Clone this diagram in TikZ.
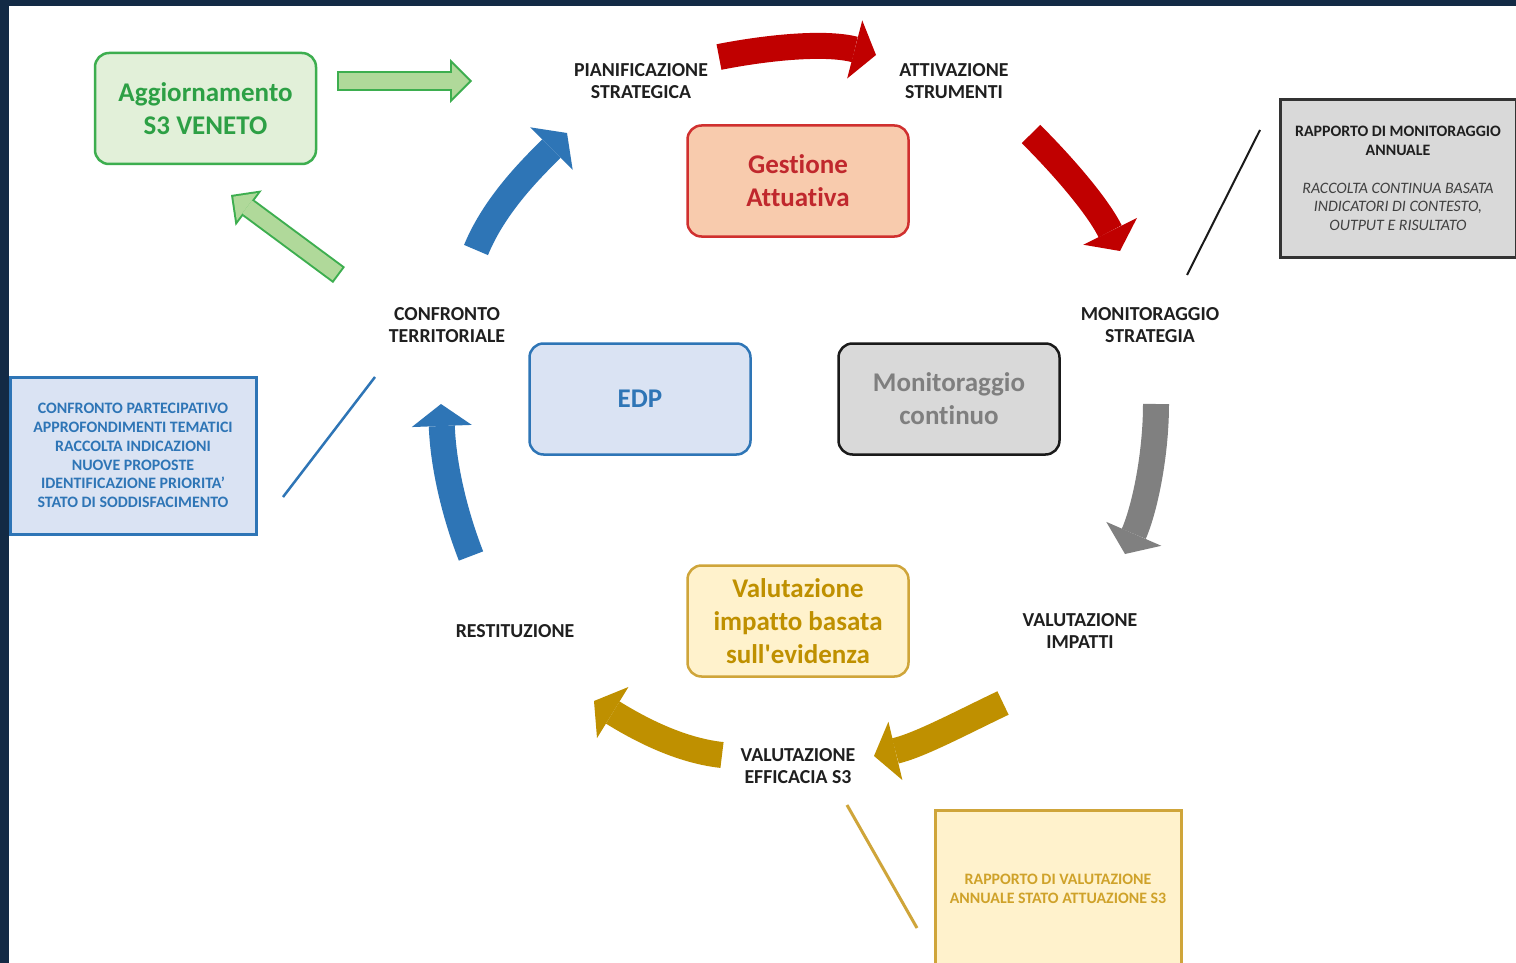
\documentclass[tikz,border=0pt]{standalone}
\usepackage{fontspec}
\setmainfont{Carlito}[Ligatures=NoCommon]
\usetikzlibrary{arrows.meta}
\usetikzlibrary{positioning}
\definecolor{navy}{HTML}{132A45}
\definecolor{phasetext}{HTML}{1F1F1F}
\definecolor{aggfill}{HTML}{E2F0D9}
\definecolor{aggline}{HTML}{3DAE4F}
\definecolor{aggtext}{HTML}{2DA045}
\definecolor{aggarrow}{HTML}{B0D99A}
\definecolor{gestfill}{HTML}{F8CBAD}
\definecolor{gestline}{HTML}{D0302F}
\definecolor{gesttext}{HTML}{C0282D}
\definecolor{redarrow}{HTML}{C00000}
\definecolor{edpfill}{HTML}{DAE3F3}
\definecolor{edpblue}{HTML}{2E75B6}
\definecolor{monfill}{HTML}{D9D9D9}
\definecolor{monline}{HTML}{1A1A1A}
\definecolor{montext}{HTML}{7F7F7F}
\definecolor{grayarrow}{HTML}{808080}
\definecolor{valfill}{HTML}{FFF2CC}
\definecolor{valline}{HTML}{CFA53A}
\definecolor{valtext}{HTML}{BF9000}
\definecolor{goldarrow}{HTML}{BF9000}
\definecolor{repgold}{HTML}{CFA22A}
\newcommand{\noteline}[1]{{\mdseries\itshape\color{black!75}#1}}
\tikzset{
  phaselabel/.style={align=center, text=phasetext, font=\fontsize{19.8}{21.5}\selectfont\bfseries},
  stagebox/.style={rectangle, rounded corners=14pt, line width=2.5pt, align=center,
    minimum width=221pt, minimum height=111pt, font=\fontsize{27}{33}\selectfont\bfseries},
  reportbox/.style={rectangle, line width=3pt, align=center, minimum width=246pt,
    minimum height=157pt, font=\fontsize{15.9}{18.7}\selectfont\bfseries},
  bigarrow/.style={line width=26pt, -{Triangle[length=22pt,width=60pt,line width=0pt]}},
  greenout/.style={draw=aggline, line width=20pt, -{Triangle[length=22pt,width=44pt,line width=0pt]}},
  greenin/.style={draw=aggarrow, line width=16pt, shorten <=2pt, shorten >=2.8pt,
    -{Triangle[length=17.2pt,width=34.4pt,line width=0pt]}},
  leader/.style={line width=2.5pt}
  }

\begin{document}
\begin{tikzpicture}[x=1pt, y=-1pt]
	% Frame
	\useasboundingbox (0,0) rectangle (1516,963);
	\fill[navy] (0,0) rectangle (1516,963);
	\fill[white] (9,6) rectangle (1516,963);

	% Phases of the cycle
	\node[phaselabel] (pianif) at (641,81) {PIANIFICAZIONE\\STRATEGICA};
	\node[phaselabel] (attiv) at (954,81) {ATTIVAZIONE\\STRUMENTI};
	\node[phaselabel] (monstr) at (1150,325) {MONITORAGGIO\\STRATEGIA};
	\node[phaselabel] (valimp) at (1080,631) {VALUTAZIONE\\IMPATTI};
	\node[phaselabel] (valeff) at (798,766) {VALUTAZIONE\\EFFICACIA S3};
	\node[phaselabel] (restit) at (515,631) {RESTITUZIONE};
	\node[phaselabel] (confr) at (447,325) {CONFRONTO\\TERRITORIALE};

	% Boxes
	\node[stagebox, fill=aggfill, draw=aggline, text=aggtext] (aggiorn) at (205.5,108.5) {Aggiornamento\\S3 VENETO};
	\node[stagebox, fill=gestfill, draw=gestline, text=gesttext] (gestione) at (798,181) {Gestione\\Attuativa};
	\node[stagebox, fill=edpfill, draw=edpblue, text=edpblue] (edp) at (640,399) {EDP};
	\node[stagebox, fill=monfill, draw=monline, text=montext, right=85.5pt of edp] (moncont) {Monitoraggio\\continuo};
	\node[stagebox, fill=valfill, draw=valline, text=valtext] (valbox) at (798,621) {Valutazione\\impatto basata\\sull\textquotesingle evidenza};

	% Reports
	\node[reportbox, fill=monfill, draw=black!80, minimum width=236pt, text=phasetext] (rapmon) at (1398,178.5)
		{RAPPORTO DI MONITORAGGIO\\ANNUALE\\[18.7pt]\noteline{RACCOLTA CONTINUA BASATA}\\\noteline{INDICATORI DI CONTESTO,}\\\noteline{OUTPUT E RISULTATO}};
	\node[reportbox, fill=edpfill, draw=edpblue, text=edpblue] (confpart) at (133,455.5)
		{CONFRONTO PARTECIPATIVO\\APPROFONDIMENTI TEMATICI\\RACCOLTA INDICAZIONI\\NUOVE PROPOSTE\\IDENTIFICAZIONE PRIORITA’\\STATO DI SODDISFACIMENTO};
	\node[reportbox, fill=valfill, draw=valline, text=repgold] (rapval) at (1058,888.5)
		{RAPPORTO DI VALUTAZIONE\\ANNUALE STATO ATTUAZIONE S3};

	% Arrow ends
	\coordinate (aggstart) at (337,81);
	\coordinate (aggend) at (472,81);
	\coordinate (confstart) at (339,275);
	\coordinate (confend) at (231,195);
	\coordinate (confrout) at (476,250);
	\coordinate (pianifin) at (567,133);
	\coordinate (pianifout) at (719,57);
	\coordinate (attivin) at (876,55);
	\coordinate (attivout) at (1031,134);
	\coordinate (monstrin) at (1120,251);
	\coordinate (monstrout) at (1156,404);
	\coordinate (valimpin) at (1125,554);
	\coordinate (valimpout) at (1003,703);
	\coordinate (valeffin) at (874,756);
	\coordinate (valeffout) at (722,755);
	\coordinate (restitin) at (594,701);
	\coordinate (restitout) at (471,556);
	\coordinate (confrin) at (441,404);

	% Leaders
	\coordinate (rapmonpin) at (1260,130);
	\coordinate (monstrpin) at (1187,275);
	\coordinate (confrpin) at (375,377);
	\coordinate (confpartpin) at (283,497);
	\coordinate (valeffpin) at (847,805);
	\coordinate (rapvalpin) at (917,928);
	\draw[leader, monline, line width=2pt] (rapmonpin) -- (monstrpin);
	\draw[leader, edpblue] (confrpin) -- (confpartpin);
	\draw[leader, valline, line width=3pt] (valeffpin) -- (rapvalpin);

	% Green arrows
	\draw[greenout] (aggstart) -- (aggend);
	\draw[greenin] (aggstart) -- (aggend);
	\draw[greenout] (confstart) -- (confend);
	\draw[greenin] (confstart) -- (confend);

	% Cycle arrows
	\draw[bigarrow, edpblue] (confrout) .. controls (495,204) and (532,168) .. (pianifin);
	\draw[bigarrow, redarrow] (pianifout) .. controls (770,47) and (826,42) .. (attivin);
	\draw[bigarrow, redarrow] (attivout) .. controls (1066,169) and (1098,207) .. (monstrin);
	\draw[bigarrow, grayarrow] (monstrout) .. controls (1156,454) and (1145,508) .. (valimpin);
	\draw[bigarrow, goldarrow] (valimpout) .. controls (961,723) and (920,745) .. (valeffin);
	\draw[bigarrow, goldarrow] (valeffout) .. controls (676,750) and (633,725) .. (restitin);
	\draw[bigarrow, edpblue] (restitout) .. controls (452,507) and (443,460) .. (confrin);

\end{tikzpicture}
\end{document}
